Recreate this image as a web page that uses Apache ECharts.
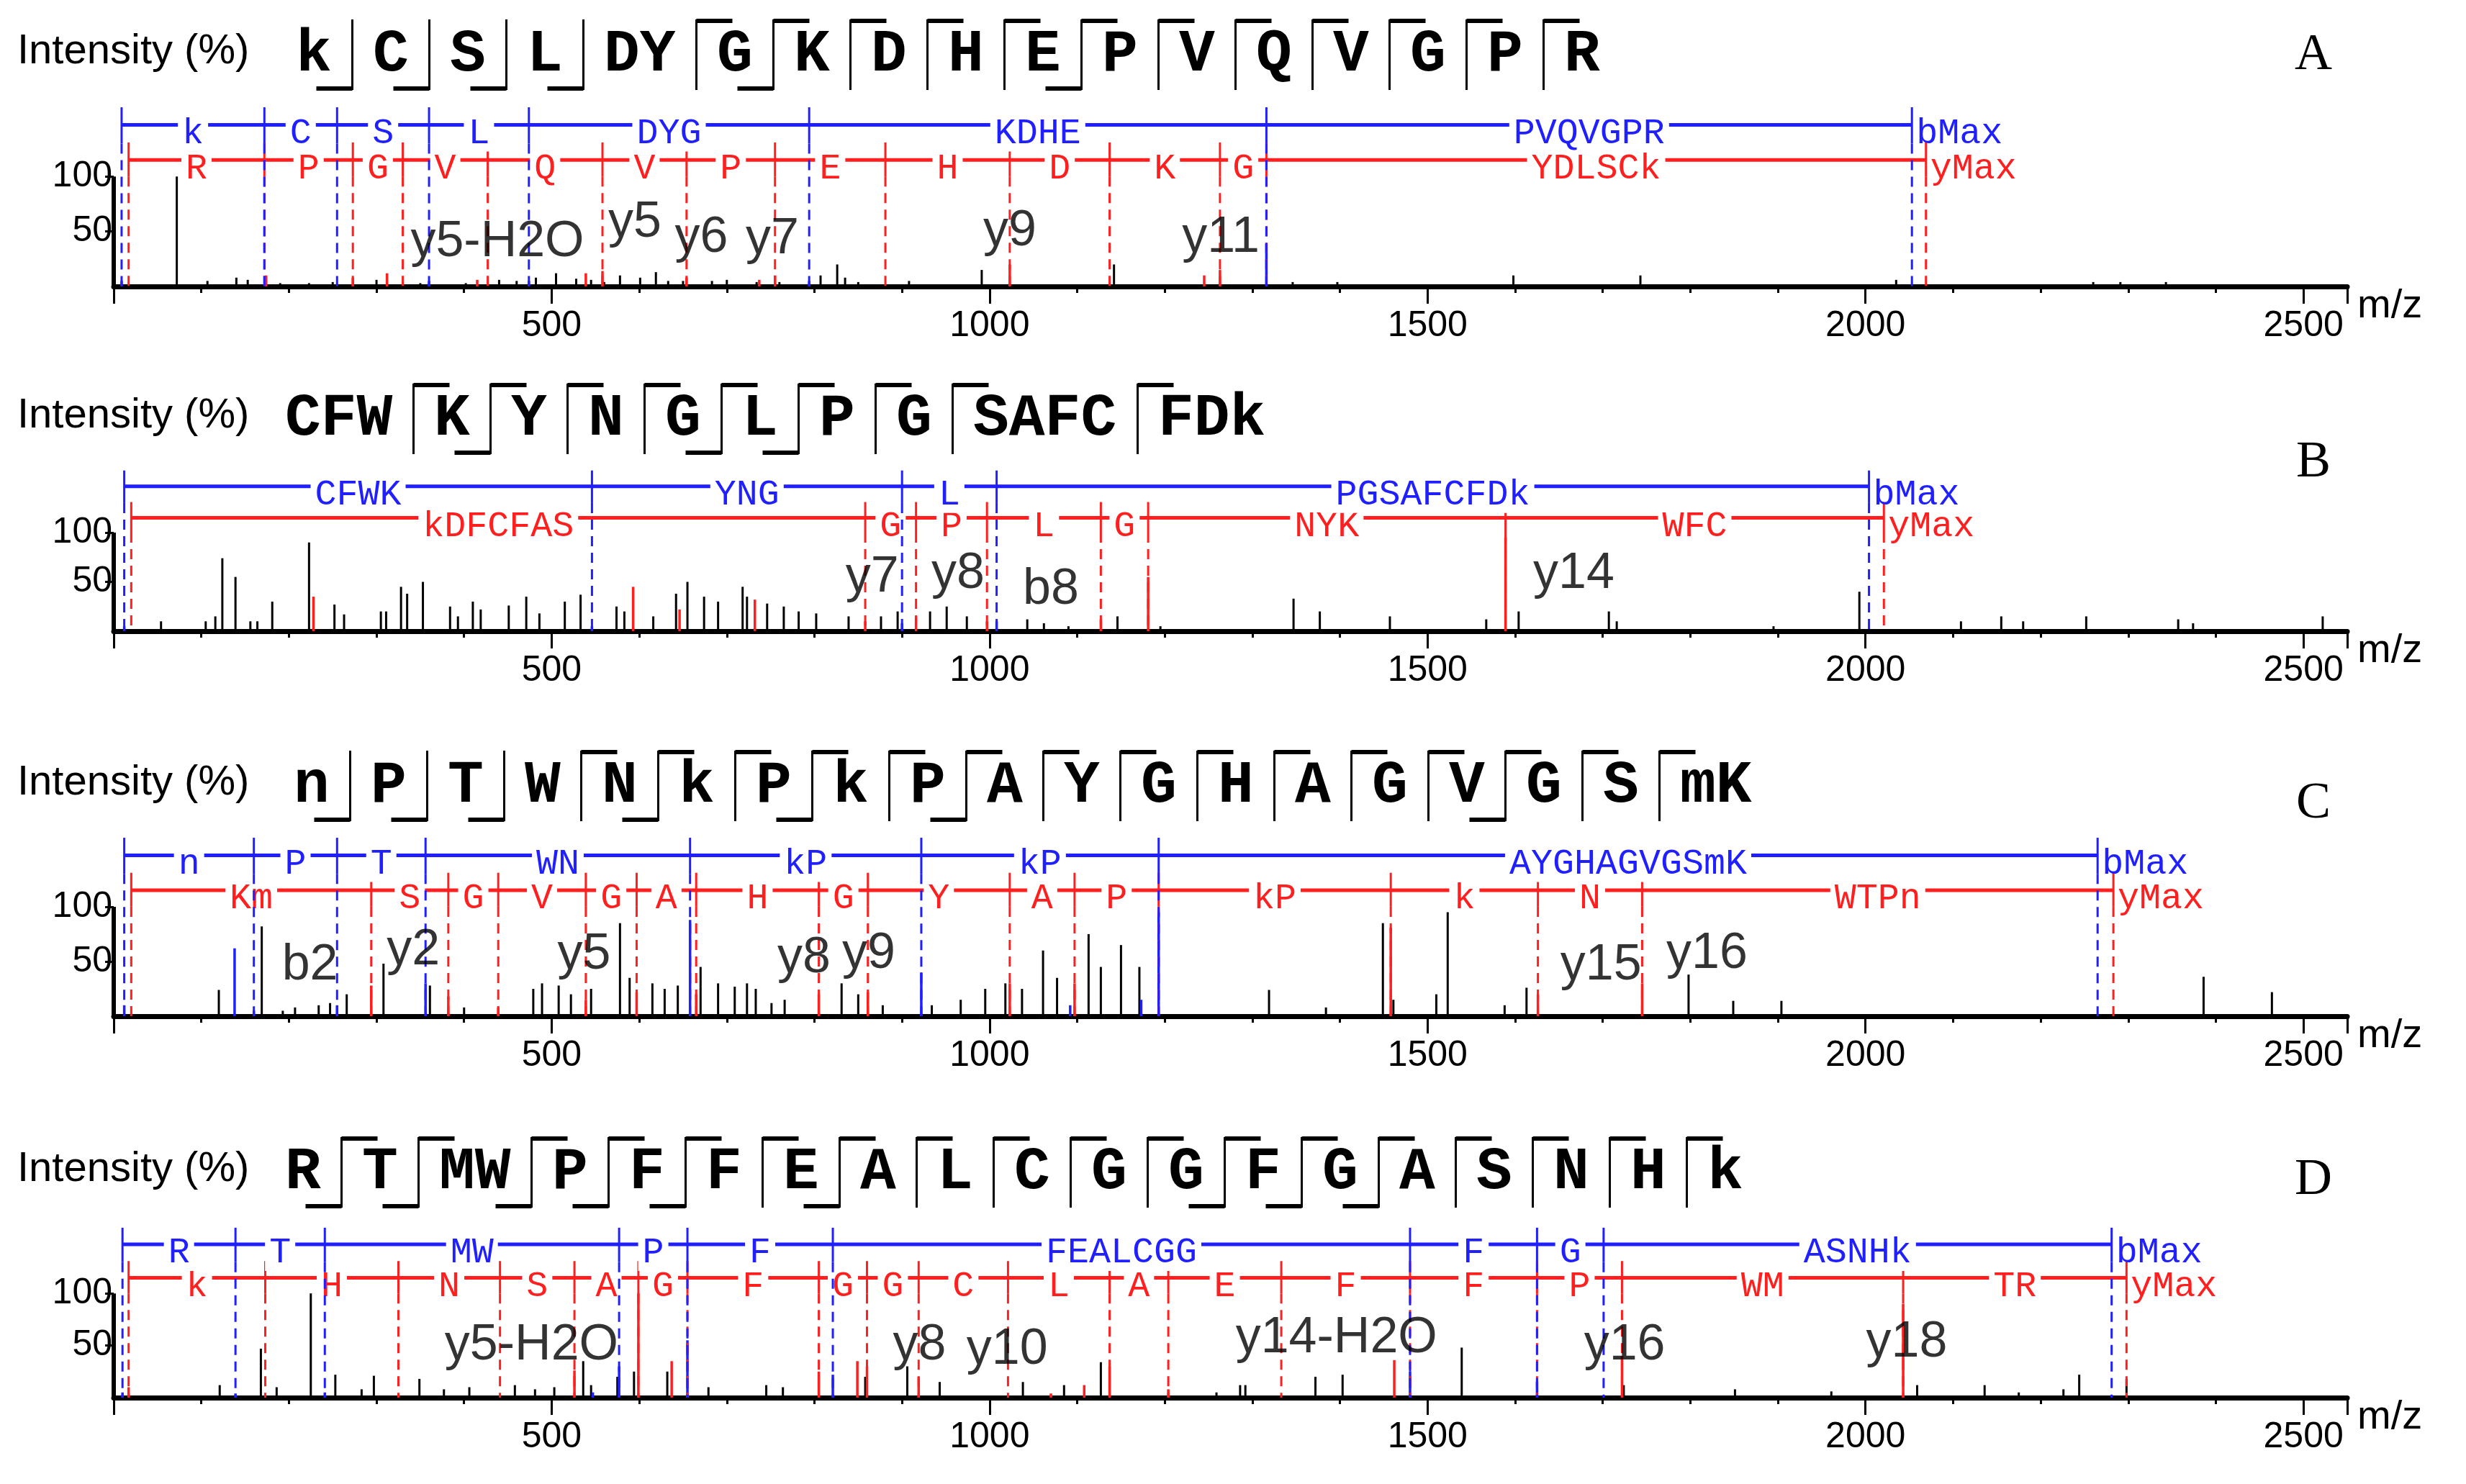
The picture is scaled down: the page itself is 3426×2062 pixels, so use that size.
<!DOCTYPE html>
<html>
<head>
<meta charset="utf-8">
<script src="https://cdn.jsdelivr.net/npm/echarts@6/dist/echarts.min.js"></script>
<style>html,body{margin:0;padding:0;background:#fff}#main{width:3426px;height:2062px}</style>
</head>
<body>
<div id="main"></div>
<script>
// ---- panel A ----
var seqA = ['k','C','S','L','DY','G','K','D','H','E','P','V','Q','V','G','P','R'];
var gapA = ['b','b','b','b','y','by','y','y','y','by','y','y','y','y','y','y'];
var bCutA = [9, 172, 255, 360, 474, 794, 1316, 2053];
var bLabA = ['k','C','S','L','DYG','KDHE','PVQVGPR'];
var yCutA = [17, 172, 273, 330, 427, 558, 654, 755, 881, 1023, 1137, 1263, 1316, 2069];
var yLabA = ['R','P','G','V','Q','V','P','E','H','D','K','G','YDLSCk'];
var peakA = [[72,100],[107,5],[140,8],[153,6],[190,3],[223,3],[250,4],[300,6],[350,3],[402,3],[440,6],[460,5],[482,8],[505,12],[528,7],[545,6],[560,4],[578,10],[601,8],[619,13],[633,5],[650,5],[683,5],[700,6],[734,4],[760,4],[807,10],[826,20],[835,8],[850,4],[908,5],[991,15],[1142,20],[1346,4],[1397,4],[1598,10],[1743,10],[2035,6],[2260,4],[2291,4],[2343,4]];
var redA = [[174,10],[273,8],[312,12],[415,6],[539,12],[558,14],[654,8],[737,6],[755,10],[1023,20],[1245,10],[1263,15]];
var blueA = [[9,5],[360,5],[474,5],[794,5],[1316,39]];
var ionA = [['y5-H2O',438,40],['y5',595,58],['y6',671,44],['y7',752,43],['y9',1023,50],['y11',1264,44]];

// ---- panel B ----
var seqB = ['CFW','K','Y','N','G','L','P','G','SAFC','FDk'];
var gapB = ['y','by','y','y','by','by','y','y','y'];
var bCutB = [12, 546, 900, 1008, 2004];
var bLabB = ['CFWK','YNG','L','PGSAFCFDk'];
var yCutB = [20, 858, 916, 997, 1127, 1181, 1589, 2021];
var yLabB = ['kDFCFAS','G','P','L','G','NYK','WFC'];
var peakB = [[54,10],[105,10],[116,15],[124,74],[139,55],[156,10],[164,10],[181,30],[223,90],[252,27],[263,17],[305,20],[311,20],[328,45],[335,38],[353,50],[384,25],[393,15],[410,30],[419,22],[451,26],[471,35],[486,18],[515,30],[533,37],[574,25],[583,20],[616,15],[642,38],[655,50],[674,35],[690,30],[718,45],[723,35],[746,28],[765,25],[782,20],[802,18],[839,15],[876,15],[895,20],[932,20],[951,25],[974,15],[1043,12],[1062,8],[1090,5],[1146,15],[1195,5],[1347,33],[1377,20],[1457,15],[1567,12],[1604,20],[1707,20],[1716,10],[1895,5],[1993,40],[2109,10],[2155,15],[2180,10],[2252,15],[2357,12],[2374,8],[2522,15]];
var redB = [[228,35],[593,45],[646,22],[732,32],[858,10],[916,15],[997,10],[1127,12],[1181,55],[1589,95]];
var blueB = [[12,5],[546,5],[900,8],[1008,10]];
var ionB = [['y7',866,54],['y8',964,58],['b8',1070,42],['y14',1667,58]];

// ---- panel C ----
var seqC = ['n','P','T','W','N','k','P','k','P','A','Y','G','H','A','G','V','G','S','mK'];
var gapC = ['b','b','b','y','by','y','by','y','by','y','y','y','y','y','y','by','y','y'];
var bCutC = [12, 160, 255, 356, 658, 922, 1193, 2265];
var bLabC = ['n','P','T','WN','kP','kP','AYGHAGVGSmK'];
var yCutC = [20, 294, 382, 439, 539, 597, 665, 805, 861, 1023, 1097, 1193, 1458, 1626, 1745, 2283];
var yLabC = ['Km','S','G','V','G','A','H','G','Y','A','P','kP','k','N','WTPn'];
var peakC = [[120,24],[169,82],[193,5],[207,8],[234,10],[247,12],[266,20],[308,48],[361,28],[400,8],[479,25],[489,30],[508,28],[522,20],[545,25],[578,85],[589,35],[615,30],[629,25],[644,28],[670,45],[690,30],[709,27],[723,30],[733,25],[751,12],[766,15],[831,30],[850,20],[878,10],[934,10],[967,15],[995,25],[1018,30],[1037,25],[1061,60],[1077,35],[1113,75],[1127,45],[1150,65],[1171,45],[1319,24],[1384,8],[1449,85],[1461,15],[1510,20],[1523,95],[1588,10],[1613,26],[1798,38],[1849,14],[1904,14],[2386,36],[2464,22]];
var redC = [[294,28],[382,18],[439,8],[539,15],[597,22],[665,20],[805,20],[861,22],[1023,30],[1097,30],[1458,81],[1626,20],[1745,30]];
var blueC = [[12,10],[138,62],[160,5],[255,10],[356,30],[658,88],[922,40],[1092,10],[1173,15],[1193,95]];
var ionC = [['b2',224,46],['y2',342,60],['y5',537,56],['y8',788,53],['y9',862,57],['y15',1698,46],['y16',1819,57]];

// ---- panel D ----
var seqD = ['R','T','MW','P','F','F','E','A','L','C','G','G','F','G','A','S','N','H','k'];
var gapD = ['by','by','by','by','by','y','by','y','y','y','y','by','by','by','y','y','y','y'];
var bCutD = [10, 139, 241, 577, 655, 821, 1480, 1625, 1701, 2281];
var bLabD = ['R','T','MW','P','F','FEALCGG','F','G','ASNHk'];
var yCutD = [17, 173, 325, 441, 526, 599, 655, 805, 860, 919, 1021, 1137, 1204, 1333, 1480, 1625, 1722, 2043, 2298];
var yLabD = ['k','H','N','S','A','G','F','G','G','C','L','A','E','F','F','P','WM','TR'];
var peakD = [[121,12],[168,47],[186,10],[225,100],[253,22],[283,8],[297,21],[349,18],[377,8],[406,10],[458,12],[481,8],[503,10],[536,35],[545,12],[575,20],[594,25],[632,25],[679,10],[745,12],[764,10],[858,20],[906,30],[943,15],[1038,15],[1085,12],[1127,34],[1259,5],[1286,12],[1292,12],[1372,20],[1403,22],[1539,48],[1724,12],[1851,8],[1961,6],[2059,12],[2136,12],[2175,5],[2226,8],[2244,22],[2298,18]];
var redD = [[17,10],[526,26],[599,100],[637,35],[805,25],[849,35],[860,30],[919,20],[1070,4],[1108,12],[1137,30],[1204,8],[1462,36],[1722,40],[2043,90]];
var blueD = [[10,5],[139,4],[241,5],[547,5],[577,30],[655,55],[821,22],[1480,25],[1625,15]];
var ionD = [['y5-H2O',477,50],['y8',920,50],['y10',1020,46],['y14-H2O',1396,57],['y16',1725,50],['y18',2047,53]];

var yTicks = [50, 100];

var BLUE = '#1f1fff', RED = '#ff1f1f';
var panels = [
  {name:'A', top:146, h:252, seqY:77, seqX:411, seq:seqA, gap:gapA, bc:bCutA, bl:bLabA, yc:yCutA, yl:yLabA, pk:peakA, rd:redA, bu:blueA, ion:ionA, letterY:77},
  {name:'B', top:651, h:226, seqY:583, seqX:396, seq:seqB, gap:gapB, bc:bCutB, bl:bLabB, yc:yCutB, yl:yLabB, pk:peakB, rd:redB, bu:blueB, ion:ionB, letterY:643},
  {name:'C', top:1161, h:251, seqY:1093, seqX:408, seq:seqC, gap:gapC, bc:bCutC, bl:bLabC, yc:yCutC, yl:yLabC, pk:peakC, rd:redC, bu:blueC, ion:ionC, letterY:1117},
  {name:'D', top:1703, h:239, seqY:1630, seqX:396, seq:seqD, gap:gapD, bc:bCutD, bl:bLabD, yc:yCutD, yl:yLabD, pk:peakD, rd:redD, bu:blueD, ion:ionD, letterY:1640}
];

var myChart = echarts.init(document.getElementById('main'));
var grids = [], xAxes = [], yAxes = [], series = [], graphics = [];

function peakSeries(i, data, color, w) {
  return {
    type: 'custom', xAxisIndex: i, yAxisIndex: i, z: 2, silent: true,
    data: data, encode: {x: 0, y: 1},
    renderItem: function (params, api) {
      var p0 = api.coord([api.value(0), 0]);
      var p1 = api.coord([api.value(0), api.value(1)]);
      return {type: 'line', shape: {x1: p0[0], y1: p0[1], x2: p1[0], y2: p1[1]},
              style: {stroke: color, lineWidth: w}};
    }
  };
}

function ladderSeries(i, cuts, labs, color, lineY, tickLo, tickHi, endText) {
  return {
    type: 'custom', xAxisIndex: i, yAxisIndex: i, z: 5, silent: true,
    data: cuts.map(function (c) { return [c, lineY]; }), encode: {x: 0, y: 1},
    renderItem: function (params, api) {
      var k = params.dataIndex;
      var c = cuts[k];
      var t1 = api.coord([c, tickHi]), t0 = api.coord([c, tickLo]), b0 = api.coord([c, 0]);
      var ly = api.coord([c, lineY])[1];
      var ch = [
        {type: 'line', shape: {x1: t1[0], y1: t1[1], x2: t0[0], y2: t0[1]}, style: {stroke: color, lineWidth: 3}},
        {type: 'line', shape: {x1: t0[0], y1: t0[1], x2: b0[0], y2: b0[1]}, style: {stroke: color, lineWidth: 3, lineDash: [14, 9]}}
      ];
      if (k < cuts.length - 1) {
        var n = api.coord([cuts[k + 1], lineY]);
        ch.push({type: 'line', shape: {x1: t1[0], y1: ly, x2: n[0], y2: ly}, style: {stroke: color, lineWidth: 5}});
        ch.push({type: 'text', x: (t1[0] + n[0]) / 2, y: ly + 12,
          style: {text: labs[k], fill: color, font: '50px "Liberation Mono"', align: 'center', verticalAlign: 'middle',
                  backgroundColor: '#fff', padding: [0, 6]}});
      } else {
        ch.push({type: 'text', x: t1[0] + 6, y: ly + 12,
          style: {text: endText, fill: color, font: '50px "Liberation Mono"', align: 'left', verticalAlign: 'middle'}});
      }
      return {type: 'group', children: ch};
    }
  };
}

panels.forEach(function (p, i) {
  grids.push({left: 158, right: 165, top: p.top, height: p.h});
  xAxes.push({
    type: 'value', gridIndex: i, min: 0, max: 2550, interval: 500,
    name: 'm/z', nameLocation: 'end', nameGap: 14,
    nameTextStyle: {fontSize: 56, fontFamily: 'Liberation Sans', color: '#000', verticalAlign: 'top'},
    axisLine: {lineStyle: {color: '#000', width: 7}},
    axisTick: {length: 24, lineStyle: {color: '#000', width: 3}},
    minorTick: {show: true, splitNumber: 5, length: 9, lineStyle: {color: '#000', width: 3}},
    axisLabel: {fontSize: 50, fontFamily: 'Liberation Sans', color: '#000', margin: 30,
                showMinLabel: false, showMaxLabel: false, formatter: function (v) { return String(v); }},
    splitLine: {show: false}
  });
  yAxes.push({
    type: 'value', gridIndex: i, min: 0, max: 165, interval: 50,
    axisLine: {show: false},
    axisTick: {length: 12, customValues: yTicks, lineStyle: {color: '#000', width: 3}},
    axisLabel: {fontSize: 50, fontFamily: 'Liberation Sans', color: '#000', margin: 2, customValues: yTicks},
    splitLine: {show: false}
  });
  series.push({type: 'line', xAxisIndex: i, yAxisIndex: i, data: [[0, 0], [0, 100]], symbol: 'none', clip: false,
    lineStyle: {color: '#000', width: 6}, silent: true, z: 3});
  series.push(peakSeries(i, p.pk, '#000', 3));
  series.push(peakSeries(i, p.rd, RED, 3.5));
  series.push(peakSeries(i, p.bu, BLUE, 3.5));
  series.push(ladderSeries(i, p.yc, p.yl, RED, 115, 100, 131, 'yMax'));
  series.push(ladderSeries(i, p.bc, p.bl, BLUE, 147, 130, 163, 'bMax'));
  series.push({
    type: 'scatter', xAxisIndex: i, yAxisIndex: i, symbolSize: 0, z: 8, silent: true,
    data: p.ion.map(function (d) { return {name: d[0], value: [d[1], d[2]]}; }),
    label: {show: true, position: 'inside', formatter: '{b}', fontSize: 70, fontFamily: 'Liberation Sans', color: '#000'}
  });

  // header: "Intensity (%)" + peptide sequence with fragment brackets
  graphics.push({type: 'text', left: 24, top: p.seqY - 34,
    style: {text: 'Intensity (%)', font: '58px "Liberation Sans"', fill: '#000'}});
  var cw = 50, g = 57, x = p.seqX, yc = p.seqY, hook = 50;
  p.seq.forEach(function (tok, j) {
    graphics.push({type: 'text', x: x, y: yc,
      style: {text: tok, font: 'bold 83px "Liberation Mono"', fill: '#000', align: 'left', verticalAlign: 'middle'}});
    x += tok.length * cw;
    if (j < p.gap.length) {
      var vx = x + g / 2, code = p.gap[j];
      graphics.push({type: 'line', shape: {x1: vx, y1: yc - 50, x2: vx, y2: yc + 48}, style: {stroke: '#000', lineWidth: 3}});
      if (code.indexOf('b') >= 0)
        graphics.push({type: 'line', shape: {x1: vx - hook, y1: yc + 46, x2: vx, y2: yc + 46}, style: {stroke: '#000', lineWidth: 6}});
      if (code.indexOf('y') >= 0)
        graphics.push({type: 'line', shape: {x1: vx, y1: yc - 48, x2: vx + hook, y2: yc - 48}, style: {stroke: '#000', lineWidth: 6}});
      x = vx + g / 2;
    }
  });
  graphics.push({type: 'text', x: 3214, y: p.letterY,
    style: {text: p.name, font: '72px "Liberation Serif"', fill: '#000', align: 'center', verticalAlign: 'middle'}});
});

var option = {
  backgroundColor: '#fff',
  animation: false,
  grid: grids,
  xAxis: xAxes,
  yAxis: yAxes,
  series: series,
  graphic: graphics
};
myChart.setOption(option);
</script>
</body>
</html>
